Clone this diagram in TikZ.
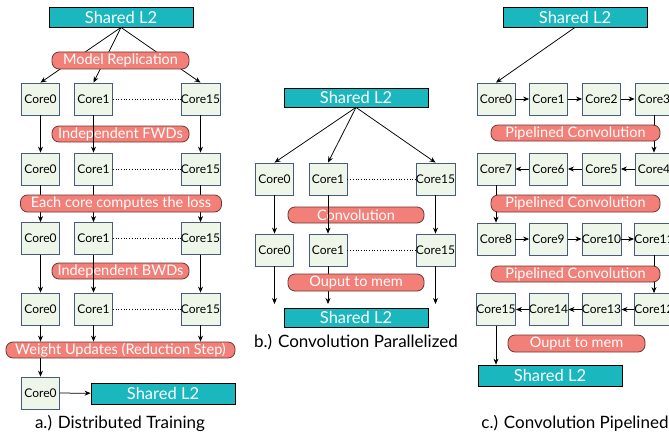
\documentclass[tikz,border=0pt]{standalone}
\usepackage{fontspec}
\setmainfont{Lato}
\usepackage{tikz}
\usetikzlibrary{arrows.meta}

\begin{document}
\begin{tikzpicture}[x=1pt,y=-1pt,
  core/.style={draw=coreedge, fill=corefill, line width=0.8pt, minimum width=38pt, minimum height=32pt, inner sep=0pt, font=\fontsize{12}{12}\selectfont},
  mem/.style={draw=black, fill=memfill, line width=0.8pt, minimum width=144pt, minimum height=20pt, inner sep=0pt, text=white, font=\fontsize{16.5}{16.5}\selectfont},
  pill/.style={draw=pilledge, fill=pillfill, line width=0.8pt, rounded corners=7pt, minimum height=16pt, inner sep=0pt, text=white, font=\fontsize{14.5}{14.5}\selectfont},
  caption/.style={font=\fontsize{17}{17}\selectfont},
  arr/.style={line width=0.75pt, -{Stealth[length=6pt,width=5pt]}},
  dots/.style={line width=0.7pt, dotted}]
\definecolor{corefill}{RGB}{238,246,234}
\definecolor{coreedge}{RGB}{74,90,122}
\definecolor{memfill}{RGB}{27,183,191}
\definecolor{pillfill}{RGB}{242,128,120}
\definecolor{pilledge}{RGB}{110,55,52}
\useasboundingbox (0,0) rectangle (669,436);
\clip (0,0) rectangle (669,436);

%% a.) Distributed Training
\node[mem] (aL2) at (121,17) {Shared L2};
\node[core] (a0r1) at (40.5,99) {Core0};
\node[core] (a1r1) at (93.5,99) {Core1};
\node[core] (a15r1) at (200.5,99) {Core15};
\node[core] (a0r2) at (40.5,169) {Core0};
\node[core] (a1r2) at (93.5,169) {Core1};
\node[core] (a15r2) at (200.5,169) {Core15};
\node[core] (a0r3) at (40.5,238.5) {Core0};
\node[core] (a1r3) at (93.5,238.5) {Core1};
\node[core] (a15r3) at (200.5,238.5) {Core15};
\node[core] (a0r4) at (40.5,309) {Core0};
\node[core] (a1r4) at (93.5,309) {Core1};
\node[core] (a15r4) at (200.5,309) {Core15};
\node[core] (a0r5) at (40.5,393) {Core0};
\node[mem, minimum height=21pt] (aL2b) at (163,393.5) {Shared L2};
\node[caption] (aCap) at (120,423) {a.) Distributed Training};
%%pills the lines run over
\node[pill, minimum width=137pt] (aFwd) at (120.5,134) {Independent FWDs};
\node[pill, minimum width=137pt] (aBwd) at (120.5,271) {Independent BWDs};
%%lines
\draw[arr] (aL2.south)--(a0r1.north);
\draw[arr] (aL2.south)--(a1r1.north);
\draw[arr] (aL2.south)--(a15r1.north);
\draw[dots] (a1r1)--(a15r1);
\draw[dots] (a1r2)--(a15r2);
\draw[dots] (a1r3)--(a15r3);
\draw[dots] (a1r4)--(a15r4);
\draw[arr] (a0r1)--(a0r2);
\draw[arr] (a1r1)--(a1r2);
\draw[arr] (a15r1)--(a15r2);
\draw[arr] (a0r2)--(a0r3);
\draw[arr] (a1r2)--(a1r3);
\draw[arr] (a15r2)--(a15r3);
\draw[arr] (a0r3)--(a0r4);
\draw[arr] (a1r3)--(a1r4);
\draw[arr] (a15r3)--(a15r4);
\node[pill, minimum width=229pt] (aWu) at (120.5,350) {Weight Updates (Reduction Step)};
\draw[arr] (a0r4)--(a0r4 |- aWu.north);
\draw[arr] (a1r4)--(a1r4 |- aWu.north);
\draw[arr] (a15r4)--(a15r4 |- aWu.north);
\draw[arr] (a0r4 |- aWu.south)--(a0r5);
\draw[arr] (a0r5)--(aL2b);
%%pills on top of the lines
\node[pill, minimum width=137pt, minimum height=17pt] (aRep) at (120.5,60.5) {Model Replication};
\node[pill, minimum width=201pt, minimum height=17pt] (aLoss) at (121,203.5) {Each core computes the loss};

%% b.) Convolution Parallelized
\node[mem, minimum height=19pt] (bL2) at (356,97.5) {Shared L2};
\node[core] (b0r1) at (274.5,179) {Core0};
\node[core] (b1r1) at (328,179) {Core1};
\node[core] (b15r1) at (435.5,179) {Core15};
\node[core] (b0r2) at (274.5,250) {Core0};
\node[core] (b1r2) at (328,250) {Core1};
\node[core] (b15r2) at (435.5,250) {Core15};
\node[mem, minimum height=19pt] (bL2b) at (356,317.5) {Shared L2};
\node[caption] (bCap) at (356,342) {b.) Convolution Parallelized};
\node[pill, minimum width=136pt] (bConv) at (356,215) {Convolution};
\coordinate (bE0) at (274.5,304);
\coordinate (bE1) at (328,304);
\coordinate (bE15) at (435.5,304);
\draw[arr] (bL2.south)--(b0r1.north);
\draw[arr] (bL2.south)--(b1r1.north);
\draw[arr] (bL2.south)--(b15r1.north);
\draw[dots] (b1r1)--(b15r1);
\draw[dots] (b1r2)--(b15r2);
\draw[arr] (b0r1)--(b0r2);
\draw[arr] (b1r1)--(b1r2);
\draw[arr] (b15r1)--(b15r2);
\draw[arr] (b0r2)--(bE0);
\draw[arr] (b1r2)--(bE1);
\draw[arr] (b15r2)--(bE15);
\node[pill, minimum width=136pt, minimum height=17pt] (bOut) at (356,282.5) {Ouput to mem};

%% c.) Convolution Pipelined
\node[mem] (cL2) at (575,17) {Shared L2};
\node[core] (c0) at (496,99) {Core0};
\node[core] (c1) at (548.5,99) {Core1};
\node[core] (c2) at (601.5,99) {Core2};
\node[core] (c3) at (654,99) {Core3};
\node[core] (c7) at (496,169) {Core7};
\node[core] (c6) at (548.5,169) {Core6};
\node[core] (c5) at (601.5,169) {Core5};
\node[core] (c4) at (654,169) {Core4};
\node[core] (c8) at (496,239) {Core8};
\node[core] (c9) at (548.5,239) {Core9};
\node[core] (c10) at (601.5,239) {Core10};
\node[core] (c11) at (654,239) {Core11};
\node[core] (c15) at (496,309.5) {Core15};
\node[core] (c14) at (548.5,309.5) {Core14};
\node[core] (c13) at (601.5,309.5) {Core13};
\node[core] (c12) at (654,309.5) {Core12};
\node[mem, minimum height=21pt] (cL2b) at (550,375.5) {Shared L2};
\node[caption] (cCap) at (575,423) {c.) Convolution Pipelined};
\draw[arr] (cL2.south)--(c0.north);
\draw[arr] (c0)--(c1);
\draw[arr] (c1)--(c2);
\draw[arr] (c2)--(c3);
\draw[arr] (c3)--(c4);
\draw[arr] (c4)--(c5);
\draw[arr] (c5)--(c6);
\draw[arr] (c6)--(c7);
\draw[arr] (c7)--(c8);
\draw[arr] (c8)--(c9);
\draw[arr] (c9)--(c10);
\draw[arr] (c10)--(c11);
\draw[arr] (c11)--(c12);
\draw[arr] (c12)--(c13);
\draw[arr] (c13)--(c14);
\draw[arr] (c14)--(c15);
\draw[arr] (c15)--(c15 |- cL2b.north);
\node[pill, minimum width=169pt] (cPipe1) at (575.5,133) {Pipelined Convolution};
\node[pill, minimum width=169pt, minimum height=17pt] (cPipe2) at (575.5,203.5) {Pipelined Convolution};
\node[pill, minimum width=169pt] (cPipe3) at (575.5,274) {Pipelined Convolution};
\node[pill, minimum width=137pt, minimum height=17pt] (cOut) at (576.5,343.5) {Ouput to mem};
\end{tikzpicture}
\end{document}
